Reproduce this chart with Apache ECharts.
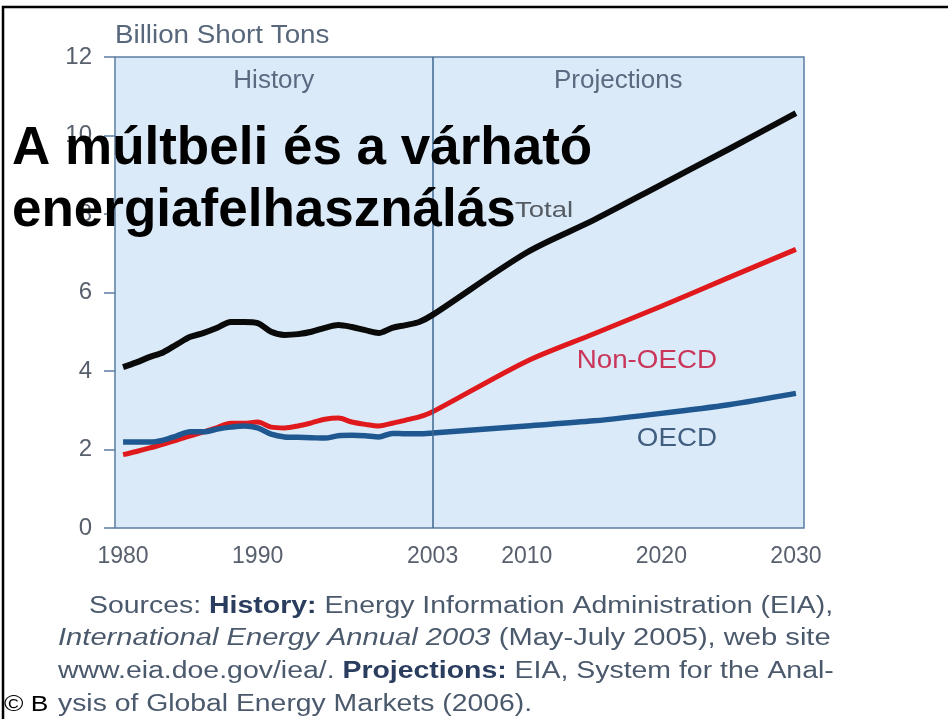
<!DOCTYPE html>
<html>
<head>
<meta charset="utf-8">
<title>A múltbeli és a várható energiafelhasználás</title>
<script src="https://cdn.jsdelivr.net/npm/echarts@6/dist/echarts.min.js"></script>
<style>
  html, body { margin: 0; padding: 0; background: #fff; }
  #myChart { width: 948px; height: 719px; }
</style>
</head>
<body>
<div id="myChart"></div>
<script>
// years on the x axis (history 1980-2003, projections after)
var years = [1980, 1981, 1982, 1983, 1984, 1985, 1986, 1987, 1988, 1989, 1990, 1991,
  1992, 1993, 1994, 1995, 1996, 1997, 1998, 1999, 2000, 2001, 2002, 2003,
  2010, 2015, 2020, 2025, 2030];
// billion short tons
var totalValues = [4.10, 4.22, 4.36, 4.48, 4.68, 4.87, 4.97, 5.10, 5.25, 5.25, 5.22, 5.00,
  4.92, 4.94, 5.00, 5.10, 5.17, 5.12, 5.04, 4.97, 5.10, 5.17, 5.25, 5.43,
  7.02, 7.85, 8.75, 9.65, 10.57];
var nonOecdValues = [1.87, 1.95, 2.04, 2.14, 2.24, 2.35, 2.45, 2.56, 2.67, 2.67, 2.70, 2.57,
  2.55, 2.60, 2.68, 2.77, 2.80, 2.70, 2.64, 2.60, 2.67, 2.75, 2.83, 2.96,
  4.25, 4.95, 5.65, 6.38, 7.10];
var oecdValues = [2.19, 2.19, 2.19, 2.24, 2.35, 2.45, 2.45, 2.52, 2.57, 2.60, 2.55, 2.39,
  2.32, 2.31, 2.30, 2.29, 2.35, 2.36, 2.35, 2.32, 2.41, 2.40, 2.40, 2.42,
  2.60, 2.73, 2.92, 3.14, 3.43];
var xTickLabels = [1980, 1990, 2003, 2010, 2020, 2030];
var dividerYear = 2003;
var xMin = 1979.4;
var xMax = 2030.6;

function pairs(vals) {
  return years.map(function (y, i) { return [y, vals[i]]; });
}

var font = 'Liberation Sans, Arial, sans-serif';
var sourceColor = '#4b596c';
var sourceBold = '#2a3d5e';
var srcRich = {
  n: { fontSize: 23, fill: sourceColor, fontFamily: font },
  b: { fontSize: 23, fill: sourceBold, fontWeight: 'bold', fontFamily: font },
  i: { fontSize: 23, fill: sourceColor, fontStyle: 'italic', fontFamily: font }
};

// text drawn a bit wider, like the stretched scan
function wideText(x, y, text, sx, extra) {
  var st = { x: 0, y: 0, text: text, textVerticalAlign: 'middle', rich: srcRich,
    fontSize: 23, fill: sourceColor, fontFamily: font };
  for (var k in extra) st[k] = extra[k];
  return { type: 'text', z: 50, x: x, y: y, scaleX: sx, style: st };
}

let myChart = echarts.init(document.getElementById('myChart'));

var option = {
  backgroundColor: '#fff',
  animation: false,
  grid: {
    left: 115, top: 57, width: 689, height: 471,
    show: true,
    backgroundColor: '#dbeaf8',
    borderColor: '#5b7da1',
    borderWidth: 1.5
  },
  xAxis: {
    type: 'value',
    min: xMin,
    max: xMax,
    axisLine: { show: false },
    axisTick: { show: false },
    splitLine: { show: false },
    axisLabel: {
      customValues: xTickLabels,
      formatter: function (v) { return String(v); },
      margin: 17,
      fontSize: 23,
      color: '#58606d',
      fontFamily: font
    }
  },
  yAxis: {
    type: 'value',
    min: 0,
    max: 12,
    interval: 2,
    axisLine: { show: false },
    splitLine: { show: false },
    axisTick: {
      show: true,
      length: 11,
      lineStyle: { color: '#5b7da1', width: 1.5 }
    },
    axisLabel: {
      margin: 23,
      fontSize: 24,
      color: '#58606d',
      fontFamily: font
    }
  },
  series: [
    {
      name: 'Non-OECD',
      type: 'line',
      data: pairs(nonOecdValues),
      showSymbol: false,
      smooth: 0.3,
      lineStyle: { color: '#e01a1c', width: 5 },
      z: 3
    },
    {
      name: 'OECD',
      type: 'line',
      data: pairs(oecdValues),
      showSymbol: false,
      smooth: 0.3,
      lineStyle: { color: '#1f5890', width: 5.5 },
      z: 4
    },
    {
      name: 'Total',
      type: 'line',
      data: pairs(totalValues),
      showSymbol: false,
      smooth: 0.3,
      lineStyle: { color: '#0a0a0a', width: 6 },
      z: 5,
      markLine: {
        silent: true,
        symbol: 'none',
        label: { show: false },
        lineStyle: { color: '#3c6790', width: 1.5, type: 'solid' },
        data: [{ xAxis: dividerYear }]
      },
      markArea: {
        silent: true,
        itemStyle: { color: 'rgba(0,0,0,0)' },
        label: {
          position: 'insideTop',
          distance: 11,
          fontSize: 26,
          color: '#5a6a80',
          fontFamily: font
        },
        data: [
          [{ name: 'History', xAxis: xMin }, { xAxis: dividerYear }],
          [{ name: 'Projections', xAxis: dividerYear }, { xAxis: xMax }]
        ]
      }
    }
  ],
  graphic: [
    // slide frame
    {
      type: 'rect', z: 100, silent: true,
      shape: { x: 3, y: 7, width: 980, height: 760 },
      style: { fill: null, stroke: '#000', lineWidth: 2.5 }
    },
    wideText(115, 36, 'Billion Short Tons', 1.11, { fontSize: 25, fill: '#58677b', rich: null }),
    wideText(515, 211, 'Total', 1.25, { fontSize: 22, fill: '#555b63', rich: null }),
    wideText(717, 361, 'Non-OECD', 1.11, { fontSize: 25, fill: '#c9365a', textAlign: 'right', rich: null }),
    wideText(717, 439, 'OECD', 1.11, { fontSize: 25, fill: '#3f5e80', textAlign: 'right', rich: null }),
    // overlay title
    {
      type: 'text', z: 200,
      style: {
        x: 12, y: 118, text: 'A múltbeli és a várható\nenergiafelhasználás',
        fontSize: 53, fontWeight: 'bold', lineHeight: 62, fill: '#000',
        fontFamily: font
      }
    },
    // sources note
    wideText(89, 607, '{n|Sources: }{b|History:}{n| Energy Information Administration (EIA),}', 1.236, {}),
    wideText(58, 639, '{i|International Energy Annual 2003}{n| (May-July 2005), web site}', 1.267, {}),
    wideText(58, 672, '{n|www.eia.doe.gov/iea/. }{b|Projections:}{n| EIA, System for the Anal-}', 1.236, {}),
    wideText(58, 705, '{n|ysis of Global Energy Markets (2006).}', 1.232, {}),
    wideText(4, 705, '© B', 1.2, { fontSize: 22, fill: '#000', rich: null })
  ]
};

myChart.setOption(option);
</script>
</body>
</html>
